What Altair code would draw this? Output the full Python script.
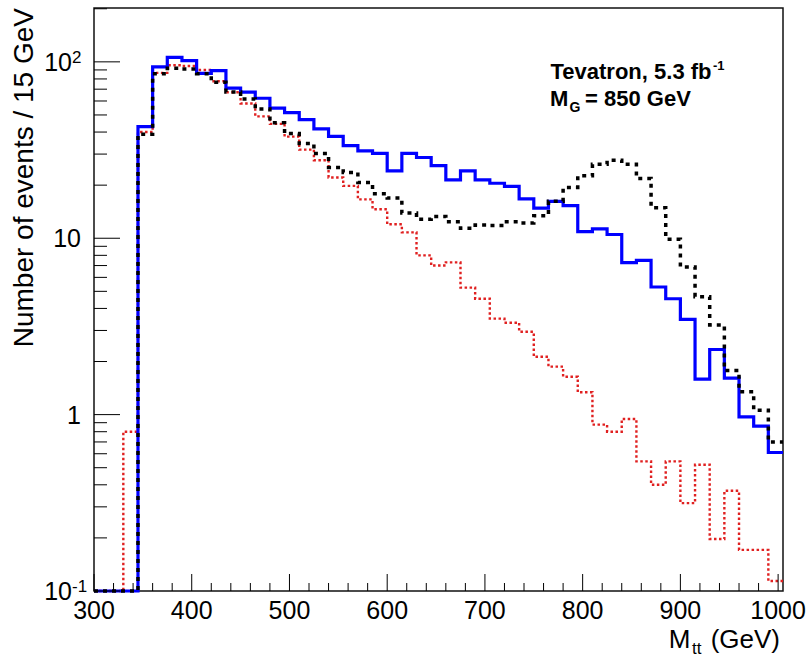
import altair as alt
import pandas as pd

# ---- data ----
bin_lo = [300 + 15 * i for i in range(47)]   # 15 GeV bins, 300..1005
x_end = 1005

blue = [0, 0, 0, 42.9, 93.7, 106, 101.7, 86, 89.3, 71, 67.3, 62.2, 54.6, 51.5,
        47.1, 41.7, 37.8, 33.5, 31.3, 30.3, 24.1, 30.3, 28.7, 25.8, 21.4, 24.1,
        21.4, 20.5, 19.7, 16.7, 14.8, 16.2, 15.3, 10.9, 11.3, 10.5, 7.28, 7.5,
        5.29, 4.54, 3.47, 1.59, 2.34, 1.61, 0.97, 0.86, 0.61]

black = [0, 0, 0, 38.9, 85.5, 92, 91, 85.5, 76.6, 67.5, 61.6, 54.0, 45.2, 39.2,
         34.4, 30.2, 25.2, 23.6, 20.7, 17.9, 16.9, 13.9, 12.8, 13.3, 12.4, 11.4,
         11.9, 11.8, 12.4, 12.2, 13.4, 16.2, 19.4, 22.6, 26.3, 27.7, 26.3, 21.8,
         14.9, 9.87, 6.87, 4.66, 3.22, 1.78, 1.35, 1.06, 0.70]

red = [0, 0, 0.80, 40, 86.6, 95.6, 94.8, 89.9, 77.6, 67.2, 58.1, 49.1, 44.5, 37.7,
       31.8, 27.7, 22.1, 19.8, 16.6, 14.6, 12.0, 10.8, 8.0, 7.0, 7.3, 5.25, 4.54,
       3.5, 3.32, 2.95, 2.13, 1.87, 1.64, 1.34, 0.877, 0.80, 0.945, 0.543, 0.40,
       0.543, 0.315, 0.52, 0.197, 0.37, 0.171, 0.171, 0.114]

x_major = [300, 400, 500, 600, 700, 800, 900, 1000]
x_minor = [v for v in range(320, 1001, 20) if v % 100 != 0]
y_major = [0.1, 1, 10, 100]
y_minor = [m * d for d in (0.1, 1, 10, 100) for m in range(2, 10) if m * d <= 202]
y_plain_labels = ["1", "10"]
y_plain_values = [1, 10]
y_pow_values = [0.1, 100]
y_pow_exps = ["-1", "2"]

W, H = 689, 583
FONT = "Liberation Sans"

xs = alt.Scale(domain=[300, x_end], nice=False, zero=False)
ys = alt.Scale(type="log", domain=[0.1, 202], nice=False, clamp=True)


def hist(vals, color, width, dash=None):
    df = pd.DataFrame({"m": bin_lo + [x_end], "n": vals + [vals[-1]]})
    kw = dict(interpolate="step-after", color=color, strokeWidth=width)
    if dash:
        kw["strokeDash"] = dash
    return (alt.Chart(df)
            .transform_calculate(nc="max(datum.n, 0.1)")
            .mark_line(**kw)
            .encode(x=alt.X("m:Q", scale=xs, axis=None),
                    y=alt.Y("nc:Q", scale=ys, axis=None)))


def xticks(vals, length):
    return (alt.Chart(pd.DataFrame({"t": vals}))
            .mark_rule(color="black", strokeWidth=1)
            .encode(x=alt.X("t:Q", scale=xs, axis=None),
                    y=alt.value(H), y2=alt.value(H - length)))


def yticks(vals, length):
    return (alt.Chart(pd.DataFrame({"t": vals}))
            .mark_rule(color="black", strokeWidth=1)
            .encode(y=alt.Y("t:Q", scale=ys, axis=None),
                    x=alt.value(0), x2=alt.value(length)))


def txt(text, x, y, size, align="left", bold=False, angle=0):
    kw = dict(text=text, fontSize=size, font=FONT, align=align,
              baseline="alphabetic", color="black",
              fontWeight="bold" if bold else "normal")
    if angle:
        kw["angle"] = angle
    return (alt.Chart(pd.DataFrame({"a": [0]}))
            .mark_text(**kw)
            .encode(x=alt.value(x), y=alt.value(y)))


layers = [
    hist(red, "#e02020", 2.4, [2.5, 2.5]),
    hist(blue, "#0000ff", 3.2),
    hist(black, "black", 3.5, [4, 5]),
    xticks(x_major, 17), xticks(x_minor, 8),
    yticks(y_major, 26), yticks(y_minor, 13),
]

# x tick labels
layers.append(
    alt.Chart(pd.DataFrame({"t": x_major, "s": [str(v) for v in x_major]}))
    .mark_text(fontSize=25, font=FONT, align="center", baseline="alphabetic")
    .encode(x=alt.X("t:Q", scale=xs, axis=None), y=alt.value(H + 28),
            text="s:N"))

# y tick labels
layers.append(
    alt.Chart(pd.DataFrame({"t": y_plain_values, "s": y_plain_labels}))
    .mark_text(fontSize=25, font=FONT, align="right", baseline="alphabetic", dy=9)
    .encode(y=alt.Y("t:Q", scale=ys, axis=None), x=alt.value(-13), text="s:N"))
layers.append(
    alt.Chart(pd.DataFrame({"t": y_pow_values, "s": ["10", "10"]}))
    .mark_text(fontSize=25, font=FONT, align="right", baseline="alphabetic", dy=9)
    .encode(y=alt.Y("t:Q", scale=ys, axis=None), x=alt.value(-22), text="s:N"))
layers.append(
    alt.Chart(pd.DataFrame({"t": y_pow_values, "s": y_pow_exps}))
    .mark_text(fontSize=17, font=FONT, align="left", baseline="alphabetic", dy=1)
    .encode(y=alt.Y("t:Q", scale=ys, axis=None), x=alt.value(-22), text="s:N"))

# axis titles
layers += [
    txt("Number of events / 15 GeV", -61, 0, 28, align="right", angle=270),
    txt("M", 596.5, 640, 26, align="right"),
    txt("tt", 598, 646, 17, align="left"),
    txt("(GeV)", 686, 640, 26, align="right"),
]

# annotation
layers += [
    txt("Tevatron, 5.3 fb", 617.5, 71, 22, align="right", bold=True),
    txt("-1", 619, 62, 13, align="left", bold=True),
    txt("M", 474.3, 98, 22, align="right", bold=True),
    txt("G", 475.5, 104, 14, align="left", bold=True),
    txt("= 850 GeV", 491, 98, 22, align="left", bold=True),
]

chart = (alt.layer(*layers)
         .properties(width=W, height=H, autosize="none",
                     padding={"left": 94, "top": 8, "right": 26, "bottom": 68},
                     background="white")
         .configure_view(stroke="#111111", strokeWidth=1.5))

chart.save("out.html", embed_options={"renderer": "svg", "actions": False})
